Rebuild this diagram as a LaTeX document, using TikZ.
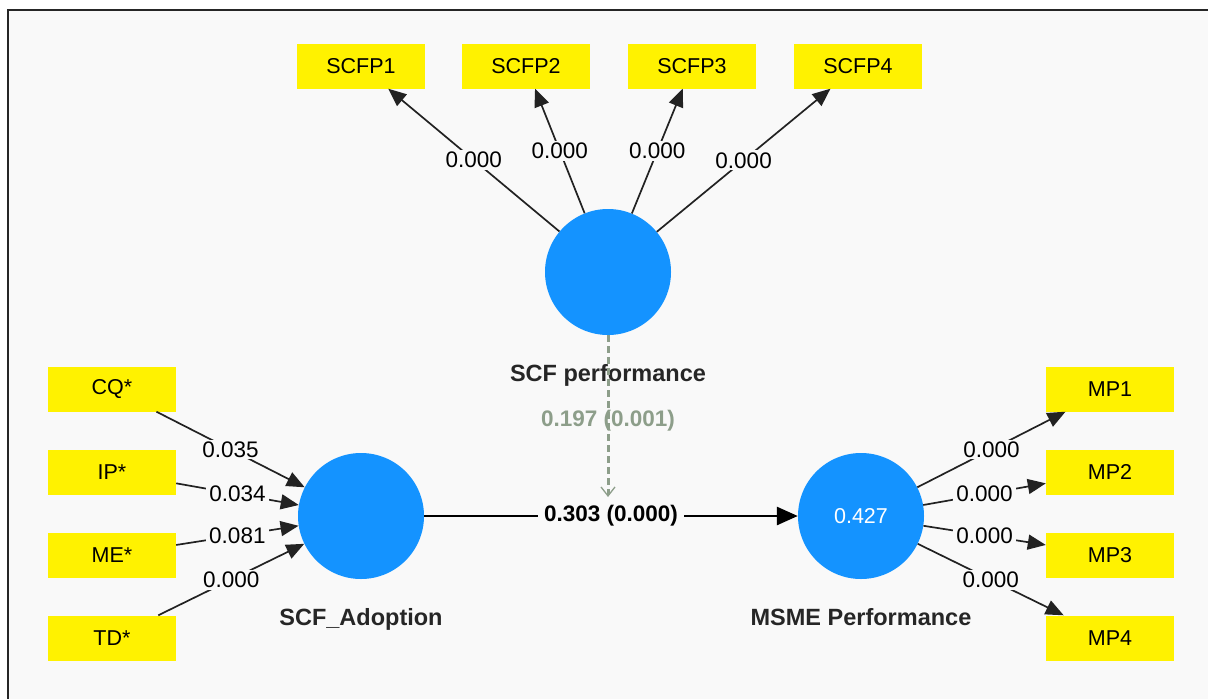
\documentclass[tikz,border=0pt]{standalone}
\usepackage{fontspec}
\setmainfont{Liberation Sans}
\usetikzlibrary{arrows.meta,positioning}
\definecolor{bggray}{HTML}{F9F9F9}
\definecolor{lvblue}{HTML}{1493FF}
\definecolor{modgreen}{HTML}{8D9E8A}
\definecolor{linegray}{HTML}{222222}
\tikzset{
    indic/.style={fill=yellow,minimum width=128pt,minimum height=45pt,inner sep=0pt,
        font=\fontsize{21.5}{25}\selectfont},
    latent/.style={circle,fill=lvblue,minimum size=126pt,inner sep=0pt},
    lvname/.style={font=\fontsize{23.5}{27}\selectfont\bfseries,text=black!85},
    load/.style={draw=linegray,line width=1.7pt,-{Triangle[length=18pt,width=15pt]}},
    wgt/.style={fill=bggray,inner xsep=3pt,inner ysep=2pt,font=\fontsize{22.5}{26}\selectfont}
}
\begin{document}
\begin{tikzpicture}[x=1pt,y=-1pt]
\useasboundingbox (0,0) rectangle (1208,699);
\clip (0,0) rectangle (1208,699);
\fill[white] (0,0) rectangle (1208,699);
\draw[fill=bggray,draw=black!85,line width=2pt] (8,10) rectangle (1240,730);

% latent variables
\node[latent] (perf) at (608,272) {};
\node[latent] (adopt) at (361,516) {};
\node[latent,text=white,font=\fontsize{21.5}{25}\selectfont] (msme) at (861,516) {0.427};
\node[lvname,below=26pt of perf] (perflab) {SCF performance};
\node[lvname,below=26pt of adopt] (adoptlab) {SCF\_Adoption};
\node[lvname,below=26pt of msme] (msmelab) {MSME Performance};

% indicators
\node[indic] (scfp1) at (361,66) {SCFP1};
\node[indic] (scfp2) at (526,66) {SCFP2};
\node[indic] (scfp3) at (692,66) {SCFP3};
\node[indic] (scfp4) at (858,66) {SCFP4};
\node[indic] (cq) at (112,389) {CQ*};
\node[indic] (ip) at (112,472) {IP*};
\node[indic] (me) at (112,555) {ME*};
\node[indic] (td) at (112,638) {TD*};
\node[indic] (mp1) at (1110,389) {MP1};
\node[indic] (mp2) at (1110,472) {MP2};
\node[indic] (mp3) at (1110,555) {MP3};
\node[indic] (mp4) at (1110,638) {MP4};

% outer loadings and weights
\draw[load] (perf) -- node[wgt] (w1) {0.000} (scfp1);
\draw[load] (perf) -- node[wgt] (w2) {0.000} (scfp2);
\draw[load] (perf) -- node[wgt] (w3) {0.000} (scfp3);
\draw[load] (perf) -- node[wgt] (w4) {0.000} (scfp4);
\draw[load] (cq) -- node[wgt] (w5) {0.035} (adopt);
\draw[load] (ip) -- node[wgt] (w6) {0.034} (adopt);
\draw[load] (me) -- node[wgt] (w7) {0.081} (adopt);
\draw[load] (td) -- node[wgt] (w8) {0.000} (adopt);
\draw[load] (msme) -- node[wgt] (w9) {0.000} (mp1);
\draw[load] (msme) -- node[wgt] (w10) {0.000} (mp2);
\draw[load] (msme) -- node[wgt] (w11) {0.000} (mp3);
\draw[load] (msme) -- node[wgt] (w12) {0.000} (mp4);

% structural path
\draw[draw=black,line width=2.8pt,-{Triangle[length=21pt,width=18pt]}] (adopt) --
    node[wgt,inner xsep=6pt,font=\fontsize{22.5}{26}\selectfont\bfseries] (beta) {0.303 (0.000)} (msme);

% moderating effect
\coordinate (modtip) at (608,497);
\draw[modgreen,line width=3pt,dash pattern=on 7pt off 4pt,
    -{Straight Barb[length=9pt,width=14pt,line width=1.3pt]}] (perf) --
    node[pos=0.53,font=\fontsize{22.5}{26}\selectfont\bfseries,text=modgreen] (modlab) {0.197 (0.001)} (modtip);
\end{tikzpicture}
\end{document}
